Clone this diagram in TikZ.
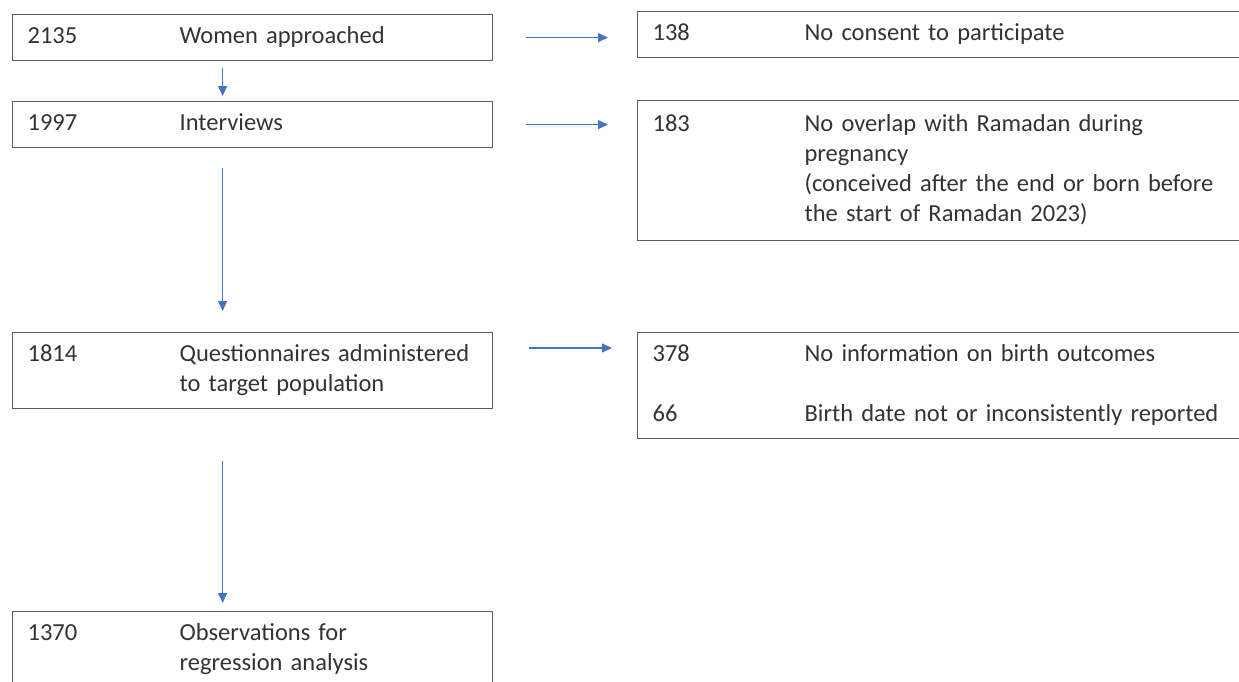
\documentclass[tikz,border=0pt]{standalone}
\usepackage{fontspec}
\setmainfont{Carlito}
\usetikzlibrary{arrows.meta}
\definecolor{arrowblue}{HTML}{4472C4}
\definecolor{boxline}{HTML}{5A5A5A}
\newcommand{\flowtab}[1]{\begin{tabular}{@{}p{152pt}@{}l@{}}#1\end{tabular}}

\begin{document}
\begin{tikzpicture}[x=1pt,y=-1pt,>={Triangle[length=10pt,width=9pt]},
  box/.style={draw=boxline,line width=1.2pt,inner xsep=15pt,inner ysep=0pt,
    text width=450pt,align=left,anchor=north west,text=black!80,
    font=\fontsize{24.5pt}{30pt}\selectfont},
  sidebox/.style={box,text width=590pt},
  flow/.style={->,draw=arrowblue,line width=1.1pt}]

\useasboundingbox (0,0) rectangle (1239,681);
\clip (0,0) rectangle (1239,681);

% Main flow (left column)
\node[box,minimum height=46pt] (approached) at (12,14) {\flowtab{2135 & Women approached}};
\node[box,minimum height=46pt] (interviews) at (12,101) {\flowtab{1997 & Interviews}};
\node[box,minimum height=76pt] (questionnaires) at (12,332)
  {\flowtab{1814 & Questionnaires administered\\ & to target population}};
\node[box,minimum height=76pt] (observations) at (12,611)
  {\flowtab{1370 & Observations for\\ & regression analysis}};

% Exclusions (right column)
\node[sidebox,minimum height=46pt] (noconsent) at (637,11) {\flowtab{138 & No consent to participate}};
\node[sidebox,minimum height=140pt] (nooverlap) at (637,100)
  {\flowtab{183 & No overlap with Ramadan during\\ & pregnancy\\
   & (conceived after the end or born before\\ & the start of Ramadan 2023)}};
\node[sidebox,minimum height=106pt] (noinfo) at (637,332)
  {\flowtab{378 & No information on birth outcomes\\[30pt]
   66 & Birth date not or inconsistently reported}};

% Downward arrows
\draw[flow,shorten <=7pt,shorten >=5pt] ([xshift=-30pt]approached.south) -- ([xshift=-30pt]approached.south |- interviews.north);
\draw[flow,shorten <=20pt,shorten >=21pt] ([xshift=-30pt]interviews.south) -- ([xshift=-30pt]interviews.south |- questionnaires.north);
\draw[flow,shorten <=52pt,shorten >=8pt] ([xshift=-30pt]questionnaires.south) -- ([xshift=-30pt]questionnaires.south |- observations.north);

% Arrows to exclusions
\draw[flow,shorten <=33pt,shorten >=29pt] (approached.east) -- (approached.east -| noconsent.west);
\draw[flow,shorten <=33pt,shorten >=29pt] (interviews.east) -- (interviews.east -| nooverlap.west);
\draw[flow,shorten <=36pt,shorten >=25pt] ([yshift=-16pt]questionnaires.north east) -- ([yshift=-16pt]questionnaires.north east -| noinfo.west);

\end{tikzpicture}
\end{document}
